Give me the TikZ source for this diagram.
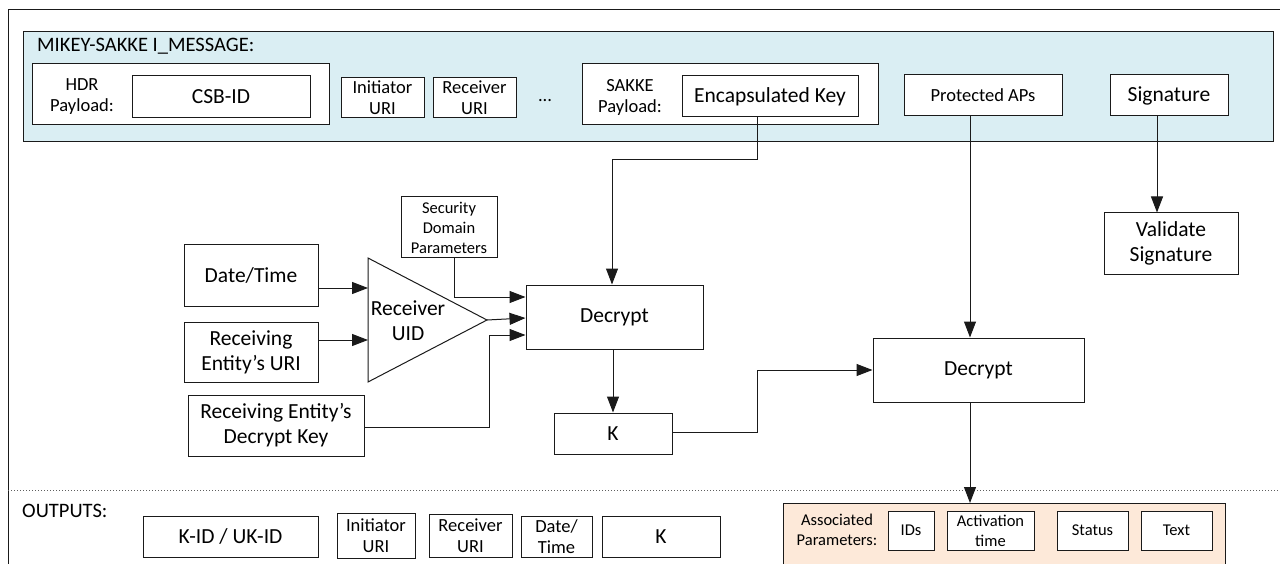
\documentclass[tikz,border=0pt]{standalone}
\usepackage{fontspec}
\setmainfont{Carlito}
\usetikzlibrary{arrows.meta}
\definecolor{lblue}{HTML}{DAEEF3}
\definecolor{peach}{HTML}{FDE9D9}
\definecolor{ln}{HTML}{1A1A1A}
\tikzset{
  box/.style={draw=ln, line width=1pt, fill=white, inner sep=0pt, align=center},
  big/.style={font=\fontsize{21.5}{25}\selectfont},
  mid/.style={font=\fontsize{18.5}{21}\selectfont},
  sml/.style={font=\fontsize{16.5}{20}\selectfont},
  conn/.style={draw=ln, line width=1pt},
  arr/.style={conn, -{Triangle[length=16pt,width=12pt]}},
}
\begin{document}
\begin{tikzpicture}[x=1pt,y=-1pt]
\useasboundingbox (0,0) rectangle (1280,564);
\begin{scope}
\clip (0,0) rectangle (1280,564);
\draw[ln, line width=1pt] (8,10) rectangle (1300,600);
% dotted separator
\draw[ln!70, line width=1pt, dotted] (8,490) -- (1280,490);
% blue message box
\draw[ln, line width=1pt, fill=lblue] (23,32) rectangle (1273,142);
% peach associated parameters box
\draw[ln, line width=1pt, fill=peach] (783,503) rectangle (1225,600);
\end{scope}
\node[anchor=base west, inner sep=0pt, font=\fontsize{20.5}{24}\selectfont] (title) at (37,52) {MIKEY-SAKKE I\_MESSAGE:};

% HDR payload
\node[box, minimum width=297pt, minimum height=61pt] (hdr) at (180.5,94.5) {};
\node[mid, align=center, inner sep=0pt] (hdrl) at (82,97) {HDR\\Payload:};
\node[box, big, minimum width=178pt, minimum height=42pt] (csb) at (221,97) {CSB-ID};
\node[box, mid, minimum width=83pt, minimum height=40pt] (init) at (382.5,98) {Initiator\\URI};
\node[box, mid, minimum width=83pt, minimum height=40pt] (recv) at (474.5,98) {Receiver\\URI};
\node[mid, inner sep=0pt] (dots) at (545,101) {...};
% SAKKE payload
\node[box, minimum width=296pt, minimum height=61pt] (sakke) at (730,94.5) {};
\node[mid, align=center, inner sep=0pt] (sakkel) at (630,97) {SAKKE\\Payload:};
\node[box, big, minimum width=176pt, minimum height=41pt] (enc) at (770,96.5) {Encapsulated Key};
\node[box, mid, minimum width=158pt, minimum height=41pt] (prot) at (983,95.5) {Protected APs};
\node[box, big, minimum width=118pt, minimum height=41pt] (sig) at (1169,95.5) {Signature};

% middle
\node[box, big, minimum width=134pt, minimum height=61pt] (valid) at (1171,243.5) {Validate\\Signature};
\node[box, sml, minimum width=96pt, minimum height=61pt] (sec) at (449,227.5) {Security\\Domain\\Parameters};
\node[box, big, minimum width=134pt, minimum height=61pt] (date) at (251,275.5) {Date/Time};
\node[box, big, minimum width=134pt, minimum height=60pt] (uri) at (251,352) {Receiving\\Entity’s URI};
\node[box, big, minimum width=176pt, minimum height=61pt] (dkey) at (276,425.5) {Receiving Entity’s\\Decrypt Key};
\coordinate (t1) at (368,258);
\coordinate (t2) at (368,382);
\coordinate (tap) at (487,320);
\draw[ln, line width=1pt, fill=white] (t1) -- (tap) -- (t2) -- cycle;
\node[big, align=center, inner sep=0pt] (uid) at (408,321) {Receiver\\UID};
\node[box, big, minimum width=177pt, minimum height=64pt] (dec1) at (614.5,317) {Decrypt};
\node[box, big, minimum width=118pt, minimum height=41pt] (k) at (613,433.5) {K};
\node[box, big, minimum width=211pt, minimum height=64pt] (dec2) at (978.5,370) {Decrypt};

% outputs
\node[anchor=base west, inner sep=0pt, font=\fontsize{20.5}{24}\selectfont] (outl) at (22,517) {OUTPUTS:};
\node[box, big, minimum width=175pt, minimum height=41pt] (kid) at (230.5,536.5) {K-ID / UK-ID};
\node[box, mid, minimum width=78pt, minimum height=45pt] (oinit) at (376,535.5) {Initiator\\URI};
\node[box, mid, minimum width=83pt, minimum height=43pt] (orecv) at (470.5,535.5) {Receiver\\URI};
\node[box, mid, minimum width=71pt, minimum height=41pt] (odate) at (556.5,536.5) {Date/\\Time};
\node[box, big, minimum width=118pt, minimum height=41pt] (ok) at (661,536.5) {K};
\node[sml, align=center, inner sep=0pt] (assoc) at (837,530) {Associated\\Parameters:};
\node[box, sml, minimum width=46pt, minimum height=39pt] (ids) at (911,530.5) {IDs};
\node[box, sml, minimum width=87pt, minimum height=39pt] (act) at (990.5,530.5) {Activation\\time};
\node[box, sml, minimum width=71pt, minimum height=39pt] (stat) at (1092.5,530.5) {Status};
\node[box, sml, minimum width=71pt, minimum height=39pt] (txt) at (1176.5,530.5) {Text};
\coordinate (peachtop) at (970,503);

% connectors
\draw[arr] (enc.south -| 757,0) -- (757,160) -- (612,160) -- (dec1.north -| 612,0);
\draw[arr] (prot.south -| 970,0) -- (dec2.north -| 970,0);
\draw[arr] (sig.south -| 1157,0) -- (valid.north -| 1157,0);
\draw[arr] (date.east |- 0,288) -- (368,288);
\draw[arr] (uri.east |- 0,340) -- (368,340);
\draw[arr] (sec.south -| 454,0) -- (454,297) -- (dec1.west |- 0,297);
\draw[arr] (tap) -- (dec1.west |- 0,318);
\draw[arr] (dkey.east |- 0,427) -- (489,427) -- (489,335) -- (dec1.west |- 0,335);
\draw[arr] (dec1.south -| 613,0) -- (k.north -| 613,0);
\draw[arr] (k.east |- 0,432) -- (757,432) -- (757,370) -- (dec2.west);
\draw[arr] (dec2.south -| 970,0) -- (peachtop);
\end{tikzpicture}
\end{document}
